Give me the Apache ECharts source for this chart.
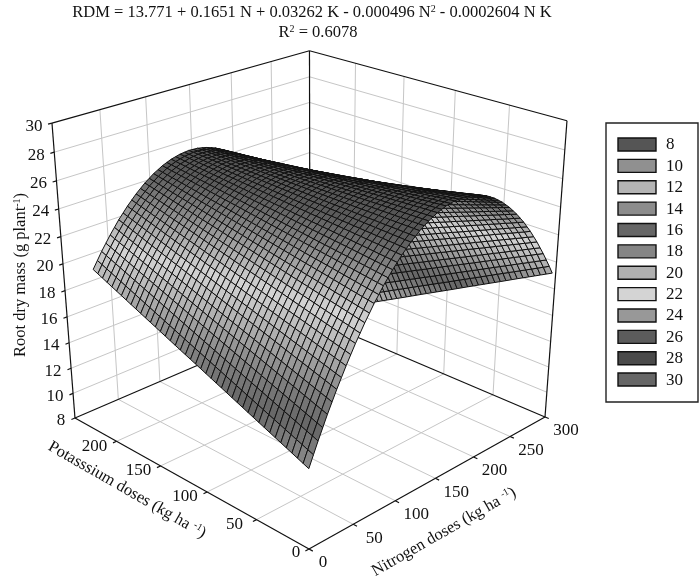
<!DOCTYPE html>
<html>
<head>
<meta charset="utf-8">
<style>
  html, body { margin: 0; padding: 0; background: #fff; }
  #main { width: 700px; height: 577px; }
</style>
</head>
<body>
<div id="main"></div>
<script src="https://cdn.jsdelivr.net/npm/echarts@6/dist/echarts.min.js"></script>
<script>
// axis ticks
const rdmTicks = [8, 10, 12, 14, 16, 18, 20, 22, 24, 26, 28, 30]
const nitrogenTicks = [0, 50, 100, 150, 200, 250, 300]
const potassiumTicks = [0, 50, 100, 150, 200]
const legendColors = ['#555555', '#909090', '#b4b4b4', '#8c8c8c', '#666666', '#858585', '#b0b0b0', '#d4d4d4', '#989898', '#5c5c5c', '#4a4a4a', '#666666']

// surface, one row per nitrogen dose, one column per potassium dose
const nitrogenDoses = [0, 10, 20, 30, 40, 50, 60, 70, 80, 90, 100, 110, 120, 130, 140, 150, 160, 170, 180, 190, 200, 210, 220, 230, 240, 250, 260, 270, 280, 290, 295]
const potassiumDoses = [0, 15.3, 30.6, 45.9, 61.2, 76.5, 91.8, 107.1, 122.4, 137.7, 153, 168.3, 183.6, 198.9, 214.2]
const rootDryMass = [
  [13.77, 14.26, 14.75, 15.24, 15.73, 16.22, 16.71, 17.20, 17.68, 18.17, 18.66, 19.15, 19.64, 20.13, 20.62],
  [15.37, 15.82, 16.27, 16.72, 17.17, 17.62, 18.07, 18.52, 18.97, 19.43, 19.88, 20.33, 20.78, 21.23, 21.68],
  [16.88, 17.29, 17.70, 18.11, 18.52, 18.93, 19.34, 19.75, 20.16, 20.58, 20.99, 21.40, 21.81, 22.22, 22.63],
  [18.28, 18.65, 19.02, 19.39, 19.77, 20.14, 20.51, 20.88, 21.26, 21.63, 22.00, 22.37, 22.74, 23.12, 23.49],
  [19.58, 19.91, 20.25, 20.58, 20.91, 21.25, 21.58, 21.91, 22.25, 22.58, 22.91, 23.24, 23.58, 23.91, 24.24],
  [20.79, 21.08, 21.37, 21.67, 21.96, 22.26, 22.55, 22.84, 23.14, 23.43, 23.73, 24.02, 24.31, 24.61, 24.90],
  [21.89, 22.15, 22.40, 22.66, 22.91, 23.17, 23.42, 23.68, 23.93, 24.19, 24.44, 24.70, 24.95, 25.21, 25.46],
  [22.90, 23.11, 23.33, 23.55, 23.76, 23.98, 24.19, 24.41, 24.63, 24.84, 25.06, 25.27, 25.49, 25.70, 25.92],
  [23.81, 23.98, 24.16, 24.34, 24.51, 24.69, 24.87, 25.04, 25.22, 25.40, 25.57, 25.75, 25.93, 26.10, 26.28],
  [24.61, 24.75, 24.89, 25.03, 25.16, 25.30, 25.44, 25.58, 25.71, 25.85, 25.99, 26.13, 26.26, 26.40, 26.54],
  [25.32, 25.42, 25.52, 25.62, 25.72, 25.81, 25.91, 26.01, 26.11, 26.21, 26.31, 26.41, 26.51, 26.60, 26.70],
  [25.93, 25.99, 26.05, 26.11, 26.17, 26.23, 26.29, 26.35, 26.41, 26.47, 26.53, 26.59, 26.65, 26.71, 26.77],
  [26.44, 26.46, 26.48, 26.50, 26.52, 26.54, 26.56, 26.59, 26.61, 26.63, 26.65, 26.67, 26.69, 26.71, 26.73],
  [26.85, 26.83, 26.82, 26.80, 26.78, 26.76, 26.74, 26.72, 26.70, 26.69, 26.67, 26.65, 26.63, 26.61, 26.59],
  [27.16, 27.11, 27.05, 26.99, 26.93, 26.88, 26.82, 26.76, 26.70, 26.64, 26.59, 26.53, 26.47, 26.41, 26.36],
  [27.38, 27.28, 27.18, 27.09, 26.99, 26.89, 26.80, 26.70, 26.60, 26.51, 26.41, 26.31, 26.22, 26.12, 26.02],
  [27.49, 27.35, 27.22, 27.08, 26.95, 26.81, 26.68, 26.54, 26.40, 26.27, 26.13, 26.00, 25.86, 25.73, 25.59],
  [27.50, 27.33, 27.15, 26.98, 26.81, 26.63, 26.46, 26.28, 26.11, 25.93, 25.76, 25.58, 25.41, 25.23, 25.06],
  [27.42, 27.21, 26.99, 26.78, 26.56, 26.35, 26.14, 25.92, 25.71, 25.49, 25.28, 25.07, 24.85, 24.64, 24.43],
  [27.23, 26.98, 26.73, 26.48, 26.22, 25.97, 25.72, 25.46, 25.21, 24.96, 24.71, 24.45, 24.20, 23.95, 23.69],
  [26.95, 26.66, 26.37, 26.08, 25.78, 25.49, 25.20, 24.91, 24.62, 24.32, 24.03, 23.74, 23.45, 23.16, 22.86],
  [26.57, 26.24, 25.91, 25.58, 25.24, 24.91, 24.58, 24.25, 23.92, 23.59, 23.26, 22.93, 22.60, 22.27, 21.93],
  [26.09, 25.72, 25.35, 24.98, 24.61, 24.24, 23.87, 23.50, 23.13, 22.76, 22.39, 22.02, 21.65, 21.28, 20.91],
  [25.51, 25.10, 24.69, 24.28, 23.87, 23.46, 23.05, 22.64, 22.23, 21.82, 21.42, 21.01, 20.60, 20.19, 19.78],
  [24.83, 24.38, 23.93, 23.48, 23.03, 22.58, 22.14, 21.69, 21.24, 20.79, 20.34, 19.89, 19.45, 19.00, 18.55],
  [24.05, 23.56, 23.07, 22.58, 22.10, 21.61, 21.12, 20.64, 20.15, 19.66, 19.17, 18.69, 18.20, 17.71, 17.23],
  [23.17, 22.64, 22.12, 21.59, 21.06, 20.54, 20.01, 19.48, 18.96, 18.43, 17.91, 17.38, 16.85, 16.33, 15.80],
  [22.19, 21.62, 21.06, 20.49, 19.93, 19.36, 18.80, 18.23, 17.67, 17.10, 16.54, 15.97, 15.40, 14.84, 14.27],
  [21.11, 20.51, 19.90, 19.30, 18.69, 18.09, 17.49, 16.88, 16.28, 15.67, 15.07, 14.46, 13.86, 13.26, 12.65],
  [19.94, 19.29, 18.65, 18.01, 17.36, 16.72, 16.07, 15.43, 14.79, 14.14, 13.50, 12.86, 12.21, 11.57, 10.93],
  [19.31, 18.65, 17.99, 17.32, 16.66, 16.00, 15.33, 14.67, 14.01, 13.34, 12.68, 12.02, 11.36, 10.69, 10.03]
]

const N_MAX = 300
const K_MAX = 250
const Z_MIN = 8
const Z_MAX = 30
const FONT = '"Liberation Serif", "Times New Roman", serif'

// perspective of the box, fitted on its corners. returns plot coordinates
function project (n, k, z) {
  const u = n / N_MAX
  const v = k / K_MAX
  const w = (z - Z_MIN) / (Z_MAX - Z_MIN)
  const d = 1 + 0.1521 * u + 0.1564 * v - 0.1008 * w
  return [
    (309 + 318.9 * u - 222.3 * v - 31.84 * w) / d,
    (549 - 68.6 * u - 65.6 * v - 353.5 * w) / d
  ]
}

function shade (z) {
  return echarts.color.lerp((z - Z_MIN) / (Z_MAX - Z_MIN), legendColors)
}

// far edge of the box first, the surface paints over it
const gridSegments = []
nitrogenTicks.slice(1, -1).forEach(n => {
  gridSegments.push([[n, 0, Z_MIN], [n, K_MAX, Z_MIN]])
  gridSegments.push([[n, K_MAX, Z_MIN], [n, K_MAX, Z_MAX]])
})
potassiumTicks.slice(1).forEach(k => {
  gridSegments.push([[0, k, Z_MIN], [N_MAX, k, Z_MIN]])
  gridSegments.push([[N_MAX, k, Z_MIN], [N_MAX, k, Z_MAX]])
})
rdmTicks.slice(1, -1).forEach(z => {
  gridSegments.push([[0, K_MAX, z], [N_MAX, K_MAX, z]])
  gridSegments.push([[N_MAX, 0, z], [N_MAX, K_MAX, z]])
})

const axisSegments = [
  [[0, 0, Z_MIN], [0, K_MAX, Z_MIN]],
  [[0, 0, Z_MIN], [N_MAX, 0, Z_MIN]],
  [[0, K_MAX, Z_MIN], [N_MAX, K_MAX, Z_MIN]],
  [[N_MAX, 0, Z_MIN], [N_MAX, K_MAX, Z_MIN]],
  [[0, K_MAX, Z_MIN], [0, K_MAX, Z_MAX]],
  [[N_MAX, 0, Z_MIN], [N_MAX, 0, Z_MAX]],
  [[N_MAX, K_MAX, Z_MIN], [N_MAX, K_MAX, Z_MAX]],
  [[0, K_MAX, Z_MAX], [N_MAX, K_MAX, Z_MAX]],
  [[N_MAX, 0, Z_MAX], [N_MAX, K_MAX, Z_MAX]]
]
nitrogenTicks.forEach(n => axisSegments.push([[n, 0, Z_MIN], [n, -3.5, Z_MIN]]))
potassiumTicks.forEach(k => axisSegments.push([[0, k, Z_MIN], [-4, k, Z_MIN]]))
rdmTicks.forEach(z => axisSegments.push([[0, K_MAX, z], [-4, K_MAX, z]]))

const tickLabels = []
nitrogenTicks.forEach(n => tickLabels.push({ pos: [n, 0, Z_MIN], text: String(n), dx: n === 0 ? 14 : 21, dy: 14 }))
potassiumTicks.forEach(k => tickLabels.push({ pos: [0, k, Z_MIN], text: String(k), dx: k === 0 ? -13 : -22, dy: k === 0 ? 4 : 5 }))
rdmTicks.forEach(z => tickLabels.push({ pos: [0, K_MAX, z], text: String(z), dx: z < 10 ? -14 : -18, dy: 3 }))

function renderSegments (stroke, lineWidth, segments) {
  return function (params, api) {
    const seg = segments[api.value(0)]
    const a = api.coord(project(seg[0][0], seg[0][1], seg[0][2]))
    const b = api.coord(project(seg[1][0], seg[1][1], seg[1][2]))
    return {
      type: 'line',
      shape: { x1: a[0], y1: a[1], x2: b[0], y2: b[1] },
      style: { stroke: stroke, lineWidth: lineWidth }
    }
  }
}

function renderLabel (params, api) {
  const item = tickLabels[api.value(0)]
  const p = api.coord(project(item.pos[0], item.pos[1], item.pos[2]))
  return {
    type: 'text',
    style: {
      text: item.text,
      x: p[0] + item.dx,
      y: p[1] + item.dy,
      align: 'center',
      verticalAlign: 'middle',
      font: '17px ' + FONT,
      fill: '#111'
    }
  }
}

// one value cell is drawn as the finer wire mesh the plot has (5 units of N, 3 strips of K)
function renderCell (params, api) {
  const i = api.value(0)
  const j = api.value(1)
  const n0 = nitrogenDoses[i]
  const n1 = nitrogenDoses[i + 1]
  const k0 = potassiumDoses[j]
  const k1 = potassiumDoses[j + 1]
  const subN = Math.round((n1 - n0) / 5)
  const subK = 3
  const mass = (s, t) => (1 - s) * ((1 - t) * rootDryMass[i][j] + t * rootDryMass[i][j + 1]) +
    s * ((1 - t) * rootDryMass[i + 1][j] + t * rootDryMass[i + 1][j + 1])
  const point = (s, t) => api.coord(project(n0 + s * (n1 - n0), k0 + t * (k1 - k0), mass(s, t)))
  const children = []
  for (let a = subN - 1; a >= 0; a--) {
    for (let b = subK - 1; b >= 0; b--) {
      const s0 = a / subN
      const s1 = (a + 1) / subN
      const t0 = b / subK
      const t1 = (b + 1) / subK
      children.push({
        type: 'polygon',
        shape: { points: [point(s0, t0), point(s1, t0), point(s1, t1), point(s0, t1)] },
        style: { fill: shade(mass((s0 + s1) / 2, (t0 + t1) / 2)), stroke: '#111', lineWidth: 1 }
      })
    }
  }
  return { type: 'group', children: children }
}

// painted from the far corner to the near one
const cells = []
for (let i = nitrogenDoses.length - 2; i >= 0; i--) {
  for (let j = potassiumDoses.length - 2; j >= 0; j--) {
    cells.push([i, j])
  }
}

function indexData (list) {
  return list.map((d, i) => [i, 0])
}

const legendItems = []
rdmTicks.forEach((level, i) => {
  const y = 138 + i * 21.37
  legendItems.push({
    type: 'rect',
    shape: { x: 618, y: y, width: 38, height: 13 },
    style: { fill: legendColors[i], stroke: '#111', lineWidth: 1.4 }
  })
  legendItems.push({
    type: 'text',
    style: { text: String(level), x: 666, y: y + 7, verticalAlign: 'middle', font: '17px ' + FONT, fill: '#111' }
  })
})

const supStyle = { sup: { fontSize: 10, fontFamily: FONT, fill: '#111', verticalAlign: 'top', lineHeight: 9 } }

function axisTitle (text, x, y, rotation) {
  return {
    type: 'text',
    x: x,
    y: y,
    rotation: rotation,
    style: {
      text: text,
      align: 'center',
      verticalAlign: 'middle',
      fontFamily: FONT,
      fontSize: 16.5,
      fill: '#111',
      rich: supStyle
    }
  }
}

const myChart = echarts.init(document.getElementById('main'))
myChart.setOption({
  animation: false,
  backgroundColor: '#fff',
  grid: { left: 0, right: 0, top: 0, bottom: 0 },
  xAxis: { type: 'value', min: 0, max: 700, show: false },
  yAxis: { type: 'value', min: 0, max: 577, inverse: true, show: false },
  graphic: [
    {
      type: 'text',
      x: 312,
      y: 13,
      style: {
        text: 'RDM = 13.771 + 0.1651 N + 0.03262 K - 0.000496 N{sup|2} - 0.0002604 N K',
        align: 'center',
        verticalAlign: 'middle',
        fontFamily: FONT,
        fontSize: 16.5,
        fill: '#111',
        rich: supStyle
      }
    },
    {
      type: 'text',
      x: 318,
      y: 33,
      style: {
        text: 'R{sup|2} = 0.6078',
        align: 'center',
        verticalAlign: 'middle',
        fontFamily: FONT,
        fontSize: 16.5,
        fill: '#111',
        rich: supStyle
      }
    },
    axisTitle('Root dry mass (g plant{sup|-1})', 21, 275, Math.PI / 2),
    axisTitle('Potasssium doses (kg ha {sup|-1})', 127, 490, -0.52),
    axisTitle('Nitrogen doses (kg ha {sup|-1})', 444, 532, 0.52),
    {
      type: 'rect',
      shape: { x: 606, y: 123, width: 92, height: 279 },
      style: { fill: '#fff', stroke: '#222', lineWidth: 1.4 }
    },
    { type: 'group', children: legendItems }
  ],
  series: [
    { type: 'custom', silent: true, coordinateSystem: 'cartesian2d', renderItem: renderSegments('#c6c6c6', 1, gridSegments), data: indexData(gridSegments) },
    { type: 'custom', silent: true, coordinateSystem: 'cartesian2d', renderItem: renderSegments('#111', 1.2, axisSegments), data: indexData(axisSegments) },
    { type: 'custom', silent: true, coordinateSystem: 'cartesian2d', renderItem: renderLabel, data: indexData(tickLabels) },
    { type: 'custom', silent: true, coordinateSystem: 'cartesian2d', renderItem: renderCell, data: cells }
  ]
})
</script>
</body>
</html>
